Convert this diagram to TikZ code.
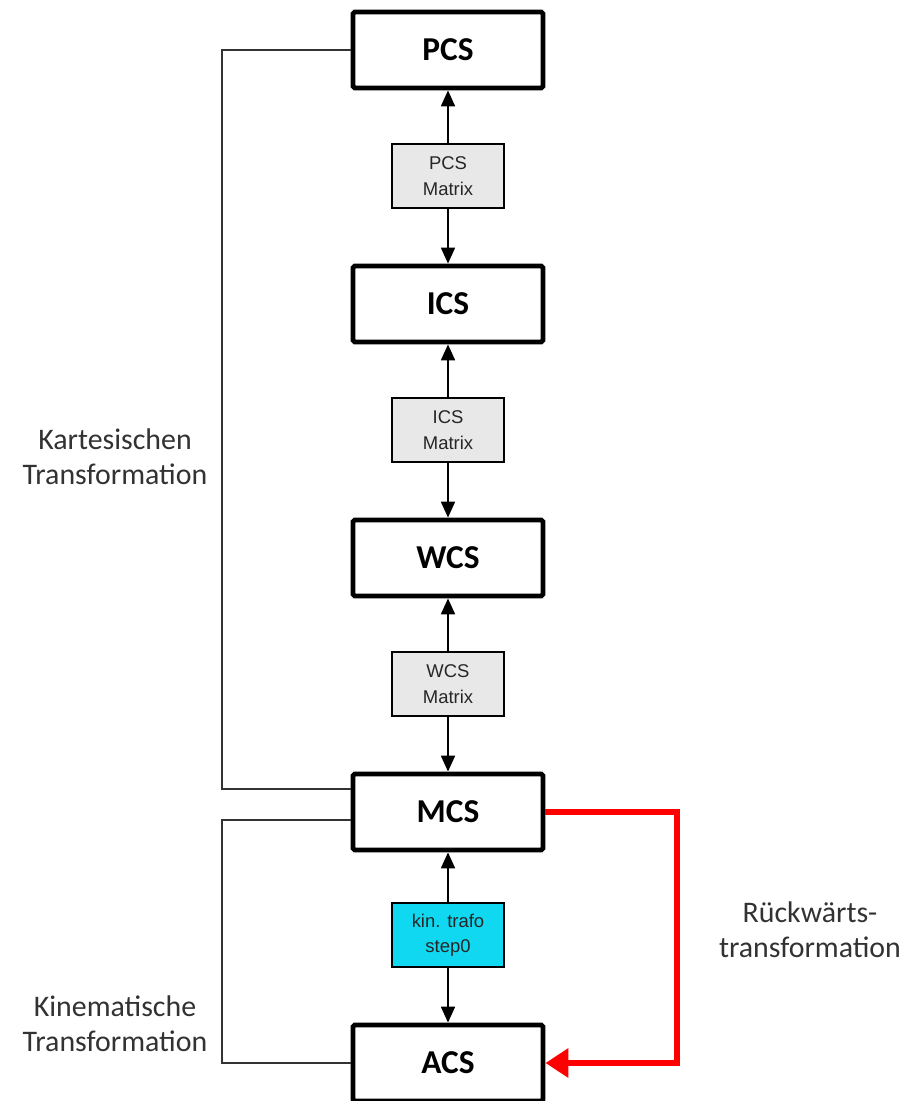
\documentclass[tikz,border=0pt]{standalone}
\usepackage{fontspec}
\setmainfont{Carlito}
\newfontfamily\arialfont{Liberation Sans}
\usetikzlibrary{arrows.meta}
\definecolor{matrixgray}{RGB}{232,232,232}
\definecolor{trafocyan}{RGB}{16,216,240}
\definecolor{backred}{RGB}{255,0,0}
\definecolor{labelgray}{RGB}{50,50,50}

\begin{document}
\begin{tikzpicture}[
    csbox/.style={draw, line width=2.8pt, rounded corners=1pt, minimum width=3.8cm, minimum height=1.52cm,
      font=\fontsize{19}{22}\selectfont\bfseries},
    matbox/.style={draw, line width=0.8pt, fill=matrixgray, minimum width=2.24cm, minimum height=1.28cm,
      align=center, font=\arialfont\fontsize{10.5}{14.5}\selectfont, text=black!85},
    flow/.style={line width=0.8pt, -{Triangle[width=8pt,length=9pt]}},
    side/.style={line width=0.8pt, draw=black!80},
    sidelabel/.style={align=center, text=labelgray, font=\fontsize{17}{20}\selectfont}
  ]
  \useasboundingbox (0,0) rectangle (18.24,22.02);
  % coordinate systems
  \node[csbox] (pcs) at (8.96,21.02) {PCS};
  \node[csbox] (ics) at (8.96,15.94) {ICS};
  \node[csbox] (wcs) at (8.96,10.86) {WCS};
  \node[csbox] (mcs) at (8.96,5.78) {MCS};
  \node[csbox] (acs) at (8.96,0.76) {ACS};
  % matrices
  \node[matbox] (pcsmat) at (8.96,18.50) {PCS\\Matrix};
  \node[matbox] (icsmat) at (8.96,13.42) {ICS\\Matrix};
  \node[matbox] (wcsmat) at (8.96,8.34) {WCS\\Matrix};
  \node[matbox, fill=trafocyan] (kintrafo) at (8.96,3.32) {kin. trafo\\step0};
  % arrows
  \draw[flow] (pcsmat) -- (pcs);
  \draw[flow] (pcsmat) -- (ics);
  \draw[flow] (icsmat) -- (ics);
  \draw[flow] (icsmat) -- (wcs);
  \draw[flow] (wcsmat) -- (wcs);
  \draw[flow] (wcsmat) -- (mcs);
  \draw[flow] (kintrafo) -- (mcs);
  \draw[flow] (kintrafo) -- (acs);
  % side brackets
  \draw[side] (pcs.west) -| (4.44,6.24) -- ([yshift=0.46cm]mcs.west);
  \draw[side] ([yshift=-0.16cm]mcs.west) -| (4.44,0.76) -- (acs.west);
  \draw[backred, line width=3.4pt, -{Triangle[width=16pt,length=13pt]}] (mcs.east) -| (13.54,0.76) -- (acs.east);
  % labels
  \node[sidelabel] (cartlabel) at (2.3,12.88) {Kartesischen\\Transformation};
  \node[sidelabel] (kinlabel) at (2.3,1.54) {Kinematische\\Transformation};
  \node[sidelabel] (backlabel) at (16.2,3.42) {Rückwärts-\\transformation};
\end{tikzpicture}
\end{document}
